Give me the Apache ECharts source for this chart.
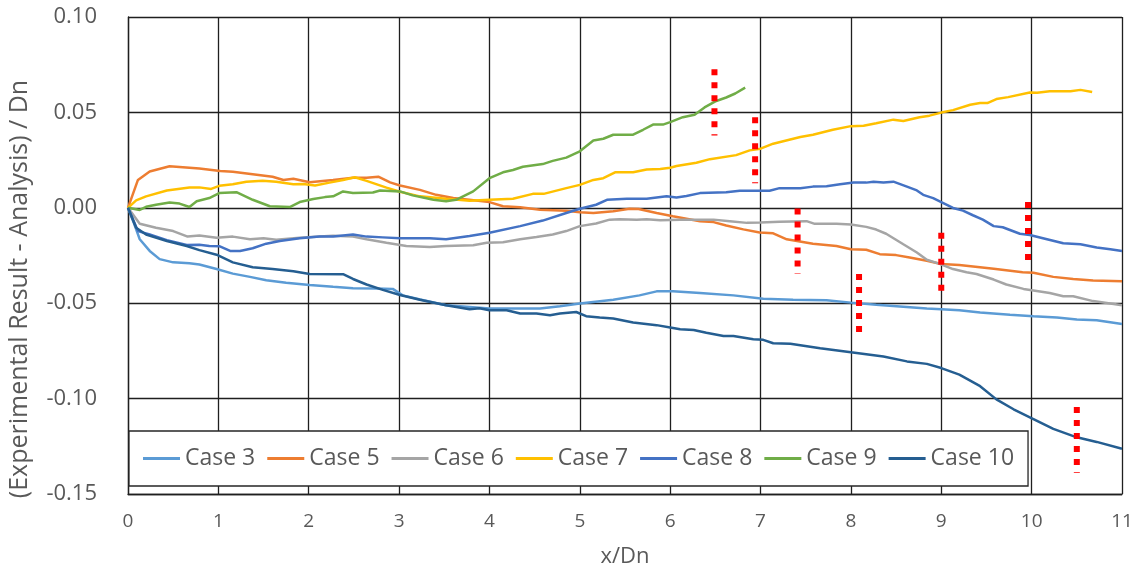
<!DOCTYPE html>
<html>
<head>
<meta charset="utf-8">
<script src="https://cdn.jsdelivr.net/npm/echarts@6/dist/echarts.min.js"></script>
<style>
  html, body { margin: 0; padding: 0; background: #fff; }
  #chart { width: 1141px; height: 573px; }
</style>
</head>
<body>
<div id="chart"></div>
<script>
// Axis ticks
const xTicks = [0, 1, 2, 3, 4, 5, 6, 7, 8, 9, 10, 11];
const yTicks = [-0.15, -0.10, -0.05, 0.00, 0.05, 0.10];

// Deviation profiles: [x/Dn, (experimental - analysis)/Dn]
const case3 = [[0,0],[0.07,-0.0087],[0.13,-0.0165],[0.24,-0.0226],[0.35,-0.0269],[0.5,-0.0286],[0.68,-0.0291],[0.79,-0.0297],[0.98,-0.0321],[1.16,-0.0345],[1.35,-0.0362],[1.53,-0.038],[1.75,-0.0393],[2.01,-0.0404],[2.27,-0.0414],[2.49,-0.0422],[2.75,-0.0423],[2.93,-0.0425],[3.04,-0.0459],[3.27,-0.0485],[3.52,-0.0511],[4.0,-0.0528],[4.56,-0.0528],[4.78,-0.0516],[5.0,-0.0502],[5.37,-0.0482],[5.66,-0.0459],[5.85,-0.0438],[6.03,-0.0438],[6.33,-0.0447],[6.7,-0.0459],[7.03,-0.0477],[7.36,-0.0482],[7.73,-0.0485],[8.0,-0.0497],[8.28,-0.0508],[8.58,-0.0518],[8.84,-0.0528],[9.0,-0.0532],[9.2,-0.0537],[9.43,-0.0549],[9.76,-0.056],[10.02,-0.0568],[10.28,-0.0575],[10.5,-0.0586],[10.72,-0.0589],[11.0,-0.0609]];
const case5 = [[0,0],[0.11,0.0146],[0.24,0.019],[0.46,0.0218],[0.79,0.0206],[1.02,0.0193],[1.16,0.0189],[1.6,0.0163],[1.72,0.0146],[1.83,0.0152],[2.01,0.0134],[2.27,0.0146],[2.49,0.0158],[2.64,0.0158],[2.77,0.0163],[2.9,0.0133],[3.01,0.0117],[3.23,0.0094],[3.41,0.0068],[3.6,0.0051],[4.0,0.003],[4.15,0.0008],[4.34,0.0003],[4.56,-0.001],[4.85,-0.0015],[5.0,-0.0023],[5.15,-0.0027],[5.37,-0.0018],[5.55,-0.0005],[5.65,-0.0006],[5.85,-0.0027],[6.03,-0.0044],[6.33,-0.007],[6.48,-0.0075],[6.62,-0.0093],[6.81,-0.0113],[6.99,-0.0129],[7.14,-0.0134],[7.29,-0.0165],[7.58,-0.0188],[7.84,-0.02],[8.0,-0.0217],[8.17,-0.022],[8.32,-0.0243],[8.5,-0.0248],[8.65,-0.026],[8.84,-0.0278],[9.0,-0.0295],[9.2,-0.03],[9.58,-0.032],[9.9,-0.0338],[10.02,-0.034],[10.24,-0.0362],[10.46,-0.0373],[10.68,-0.0381],[11.0,-0.0385]];
const case6 = [[0,0],[0.13,-0.0084],[0.31,-0.0105],[0.5,-0.0122],[0.66,-0.0151],[0.79,-0.0145],[0.98,-0.0157],[1.16,-0.0151],[1.35,-0.0165],[1.5,-0.016],[1.64,-0.0168],[1.9,-0.0157],[2.12,-0.0151],[2.27,-0.0147],[2.49,-0.0151],[2.64,-0.0165],[2.86,-0.0183],[3.08,-0.02],[3.34,-0.0205],[3.52,-0.02],[3.82,-0.0196],[3.97,-0.0183],[4.15,-0.018],[4.34,-0.0165],[4.52,-0.0153],[4.7,-0.014],[4.85,-0.0122],[5.0,-0.0096],[5.18,-0.0082],[5.33,-0.0062],[5.44,-0.006],[5.63,-0.0062],[5.74,-0.006],[5.89,-0.0065],[6.11,-0.0062],[6.33,-0.0063],[6.48,-0.0062],[6.66,-0.007],[6.85,-0.0079],[7.0,-0.0077],[7.21,-0.0073],[7.51,-0.007],[7.6,-0.0084],[7.84,-0.0084],[8.0,-0.0087],[8.17,-0.01],[8.28,-0.0114],[8.39,-0.0136],[8.58,-0.0191],[8.73,-0.0234],[8.84,-0.0272],[8.99,-0.0295],[9.13,-0.0321],[9.28,-0.0338],[9.39,-0.0347],[9.58,-0.0376],[9.72,-0.0402],[9.91,-0.0425],[10.02,-0.0433],[10.2,-0.0447],[10.35,-0.0464],[10.46,-0.0464],[10.68,-0.0489],[10.87,-0.0502],[11.0,-0.0511]];
const case7 = [[0,0],[0.09,0.0039],[0.2,0.006],[0.43,0.0091],[0.68,0.0106],[0.79,0.0107],[0.92,0.0099],[1.01,0.0115],[1.16,0.0123],[1.31,0.0137],[1.49,0.0142],[1.64,0.0137],[1.83,0.0123],[1.94,0.0125],[2.07,0.0117],[2.23,0.0132],[2.38,0.0146],[2.51,0.016],[2.64,0.0141],[2.86,0.0106],[3.01,0.0084],[3.23,0.006],[3.52,0.0047],[3.78,0.0037],[4.0,0.0042],[4.26,0.0047],[4.48,0.0073],[4.6,0.0073],[4.85,0.0103],[5.0,0.012],[5.15,0.0146],[5.26,0.0155],[5.39,0.0186],[5.59,0.0186],[5.74,0.0201],[5.89,0.0203],[6.0,0.021],[6.07,0.0219],[6.29,0.0236],[6.44,0.0255],[6.73,0.0276],[6.88,0.0301],[7.0,0.031],[7.14,0.0336],[7.44,0.0371],[7.58,0.0383],[7.8,0.0409],[8.0,0.0428],[8.14,0.043],[8.28,0.0443],[8.47,0.0462],[8.58,0.0455],[8.76,0.0475],[8.87,0.0483],[9.0,0.0499],[9.13,0.0512],[9.32,0.054],[9.43,0.0549],[9.51,0.0549],[9.61,0.057],[9.74,0.058],[9.98,0.0604],[10.06,0.0603],[10.2,0.0611],[10.43,0.0611],[10.54,0.0618],[10.67,0.0607]];
const case8 = [[0,0],[0.11,-0.0122],[0.24,-0.014],[0.43,-0.017],[0.65,-0.0195],[0.79,-0.0194],[0.9,-0.02],[1.01,-0.0201],[1.13,-0.0226],[1.24,-0.0226],[1.38,-0.0212],[1.53,-0.0188],[1.68,-0.0174],[1.9,-0.016],[2.12,-0.0151],[2.27,-0.0151],[2.49,-0.014],[2.64,-0.0151],[2.82,-0.0155],[3.01,-0.016],[3.34,-0.016],[3.52,-0.0165],[3.78,-0.0148],[4.0,-0.0131],[4.34,-0.0096],[4.59,-0.0067],[4.85,-0.0027],[5.0,-0.0005],[5.18,0.0016],[5.3,0.0042],[5.52,0.0047],[5.74,0.0047],[5.96,0.006],[6.07,0.0054],[6.18,0.0062],[6.33,0.0077],[6.62,0.0082],[6.77,0.0089],[7.1,0.0089],[7.21,0.0103],[7.44,0.0103],[7.58,0.0111],[7.73,0.0113],[7.88,0.0123],[8.03,0.0132],[8.17,0.0132],[8.25,0.0137],[8.36,0.0132],[8.47,0.0137],[8.62,0.0111],[8.73,0.0091],[8.8,0.0068],[8.91,0.0051],[9.0,0.003],[9.13,-0.0001],[9.24,-0.0015],[9.35,-0.0039],[9.46,-0.0062],[9.58,-0.0096],[9.68,-0.0102],[9.87,-0.0136],[9.98,-0.0143],[10.17,-0.0165],[10.35,-0.0186],[10.54,-0.0191],[10.72,-0.0208],[10.87,-0.0217],[11.0,-0.0226]];
const case9 = [[0,0],[0.13,-0.0011],[0.2,0.0005],[0.31,0.0016],[0.46,0.0028],[0.57,0.0022],[0.68,0.0004],[0.76,0.0034],[0.9,0.0051],[1.01,0.0077],[1.2,0.0082],[1.38,0.0042],[1.57,0.0008],[1.79,0.0004],[1.9,0.003],[2.05,0.0046],[2.18,0.0056],[2.27,0.006],[2.38,0.0086],[2.49,0.0078],[2.71,0.008],[2.79,0.0091],[3.01,0.0086],[3.15,0.0065],[3.38,0.0042],[3.52,0.0034],[3.63,0.0042],[3.82,0.0086],[4.0,0.0155],[4.15,0.0186],[4.26,0.0198],[4.37,0.0215],[4.59,0.0229],[4.7,0.0246],[4.85,0.0263],[5.0,0.0296],[5.15,0.0353],[5.26,0.0362],[5.37,0.0383],[5.59,0.0383],[5.7,0.0409],[5.81,0.0436],[5.92,0.0436],[6.0,0.0449],[6.14,0.0475],[6.27,0.0488],[6.38,0.0526],[6.51,0.056],[6.62,0.0578],[6.72,0.0599],[6.83,0.063]];
const case10 = [[0,0],[0.09,-0.0105],[0.2,-0.014],[0.43,-0.0174],[0.65,-0.02],[0.79,-0.0222],[0.98,-0.0246],[1.16,-0.0286],[1.38,-0.0312],[1.6,-0.0321],[1.83,-0.0333],[2.01,-0.0347],[2.38,-0.0348],[2.49,-0.0373],[2.64,-0.0402],[2.82,-0.043],[3.01,-0.0457],[3.23,-0.0482],[3.52,-0.0511],[3.78,-0.0532],[3.89,-0.0527],[4.0,-0.0537],[4.19,-0.0537],[4.34,-0.0554],[4.52,-0.0554],[4.67,-0.0563],[4.78,-0.0554],[4.96,-0.0546],[5.07,-0.0568],[5.22,-0.0575],[5.37,-0.058],[5.59,-0.0601],[5.85,-0.0615],[6.0,-0.0627],[6.11,-0.0637],[6.26,-0.064],[6.4,-0.0655],[6.59,-0.0672],[6.7,-0.0672],[6.92,-0.0689],[7.03,-0.0692],[7.14,-0.071],[7.33,-0.0713],[7.66,-0.0736],[8.0,-0.0757],[8.36,-0.0779],[8.62,-0.0805],[8.84,-0.0818],[9.0,-0.084],[9.2,-0.0874],[9.43,-0.0935],[9.61,-0.1004],[9.8,-0.1056],[10.02,-0.1107],[10.24,-0.1159],[10.5,-0.1203],[10.72,-0.1227],[11.0,-0.1263]];

// Uncertainty bands (vertical red dotted bars): position, upper and lower limits
const bandX = [6.49, 6.94, 7.41, 8.09, 9.0, 9.96, 10.5];
const bandTop = [0.0726, 0.0475, -0.0004, -0.0347, -0.0131, 0.003, -0.1044];
const bandBottom = [0.0379, 0.0129, -0.0347, -0.0684, -0.0471, -0.0309, -0.1388];

const caseNames = ['Case 3', 'Case 5', 'Case 6', 'Case 7', 'Case 8', 'Case 9', 'Case 10'];
const caseData = [case3, case5, case6, case7, case8, case9, case10];
const caseColors = ['#5B9BD5', '#ED7D31', '#A5A5A5', '#FFC000', '#4472C4', '#70AD47', '#255E91'];

const FONT = '"Open Sans", "Noto Sans", sans-serif';
const TEXT = '#595959';
const GRIDLINE = '#1f1f1f';

const chart = echarts.init(document.getElementById('chart'), null, { renderer: 'canvas' });

const series = caseData.map((d, i) => ({
  name: caseNames[i],
  type: 'line',
  data: d,
  symbol: 'none',
  lineStyle: { width: 2.5, color: caseColors[i] },
  itemStyle: { color: caseColors[i] },
  z: 3
}));

bandX.forEach((x, i) => {
  series.push({
    name: 'band' + i,
    type: 'line',
    data: [[x, bandTop[i]], [x, bandBottom[i]]],
    symbol: 'none',
    lineStyle: { width: 6, color: '#FF0000', type: [6, 7], cap: 'butt' },
    z: 4
  });
});

const option = {
  animation: false,
  backgroundColor: '#fff',
  textStyle: { fontFamily: FONT },
  grid: { left: 128, top: 17, right: 19, bottom: 74, containLabel: false },
  xAxis: {
    type: 'value',
    min: xTicks[0],
    max: xTicks[xTicks.length - 1],
    interval: 1,
    name: 'x/Dn',
    nameLocation: 'middle',
    nameGap: 52,
    nameTextStyle: { fontSize: 22, color: TEXT, fontFamily: FONT },
    axisLine: { show: true, onZero: false, lineStyle: { color: GRIDLINE, width: 1.3 } },
    axisTick: { show: false },
    axisLabel: { fontSize: 19, color: TEXT, margin: 18, fontFamily: FONT },
    splitLine: { show: true, lineStyle: { color: GRIDLINE, width: 1.3 } }
  },
  yAxis: {
    type: 'value',
    min: yTicks[0],
    max: yTicks[yTicks.length - 1],
    interval: 0.05,
    axisLine: { show: true, onZero: false, lineStyle: { color: GRIDLINE, width: 1.3 } },
    axisTick: { show: false },
    axisLabel: {
      fontSize: 22, color: TEXT, margin: 31, fontFamily: FONT,
      formatter: v => {
        const r = Math.round(v * 100) / 100;
        return (Math.abs(r) < 1e-9 ? 0 : r).toFixed(2);
      }
    },
    splitLine: { show: true, lineStyle: { color: GRIDLINE, width: 1.3 } }
  },
  legend: {
    data: caseNames,
    left: 129,
    top: 431,
    orient: 'horizontal',
    padding: [16, 14, 16, 14],
    itemGap: 12,
    itemWidth: 37,
    itemHeight: 3,
    icon: 'rect',
    backgroundColor: '#fff',
    borderColor: '#262626',
    borderWidth: 1.3,
    textStyle: { fontSize: 23, color: TEXT, fontFamily: FONT },
    z: 10
  },
  graphic: [{
    type: 'text',
    x: 20,
    y: 289,
    rotation: Math.PI / 2,
    style: {
      text: '(Experimental Result - Analysis) / Dn',
      font: '25px "Open Sans", "Noto Sans", sans-serif',
      fill: TEXT,
      align: 'center',
      verticalAlign: 'middle'
    }
  }],
  series: series
};

chart.setOption(option);
</script>
</body>
</html>
